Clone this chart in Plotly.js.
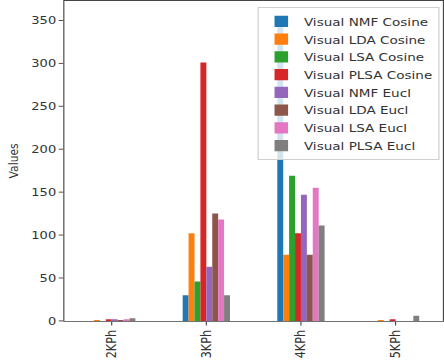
<!DOCTYPE html>
<html>
<head>
<meta charset="utf-8">
<script src="https://cdn.plot.ly/plotly-3.0.1.min.js"></script>
<style>
html,body{margin:0;padding:0;background:#fff;overflow:hidden;width:444px;height:361px;}
#chart{width:393px;height:387px;transform-origin:0 0;transform:scale(1.1298,0.9328);}
</style>
</head>
<body>
<div id="chart"></div>
<script>
const categories = ["2KPh", "3KPh", "4KPh", "5KPh"];
const seriesNames = ["Visual NMF Cosine", "Visual LDA Cosine", "Visual LSA Cosine", "Visual PLSA Cosine",
                     "Visual NMF Eucl", "Visual LDA Eucl", "Visual LSA Eucl", "Visual PLSA Eucl"];
const nmfCosine  = [0, 30, 355, 0];
const ldaCosine  = [1, 102, 77, 1];
const lsaCosine  = [0, 46, 169, 0];
const plsaCosine = [2, 301, 102, 2];
const nmfEucl    = [2, 63, 147, 0];
const ldaEucl    = [1, 125, 77, 0];
const lsaEucl    = [2, 118, 155, 0];
const plsaEucl   = [3, 30, 111, 6];
const seriesValues = [nmfCosine, ldaCosine, lsaCosine, plsaCosine, nmfEucl, ldaEucl, lsaEucl, plsaEucl];
const colors = ["#1f77b4", "#ff7f0e", "#2ca02c", "#d62728", "#9467bd", "#8c564b", "#e377c2", "#7f7f7f"];

const traces = seriesNames.map((n, i) => ({
  type: "bar", name: n, x: categories, y: seriesValues[i],
  marker: {color: colors[i], line: {width: 0}}
}));

const layout = {
  width: 393, height: 387,
  margin: {l: 57, r: 1, t: 1, b: 43, pad: 0},
  paper_bgcolor: "#fff", plot_bgcolor: "#fff",
  barmode: "group", bargap: 0.5, bargroupgap: 0,
  font: {family: "DejaVu Sans", color: "#333"},
  showlegend: true,
  legend: {x: 0.991, y: 0.981, xanchor: "right", yanchor: "top",
           bgcolor: "rgba(255,255,255,0.8)", bordercolor: "#ccc", borderwidth: 1,
           font: {size: 12, color: "#333"}, itemwidth: 30, tracegroupgap: 0},
  xaxis: {type: "category", range: [-0.5, 3.5], tickangle: -90,
          showline: true, mirror: true, linecolor: "#444", linewidth: 1,
          ticks: "outside", ticklen: 4, tickcolor: "#444", showgrid: false,
          tickfont: {size: 12, color: "#333"}},
  yaxis: {range: [0, 372.75], tickvals: [0, 50, 100, 150, 200, 250, 300, 350],
          showline: true, mirror: true, linecolor: "#444", linewidth: 1,
          ticks: "outside", ticklen: 4, tickcolor: "#444", showgrid: false, zeroline: false,
          tickfont: {size: 11.5, color: "#333"},
          title: {text: "Values", font: {size: 11.5, color: "#333"}, standoff: 8}}
};
Plotly.newPlot("chart", traces, layout, {displayModeBar: false, staticPlot: true});
</script>
</body>
</html>
